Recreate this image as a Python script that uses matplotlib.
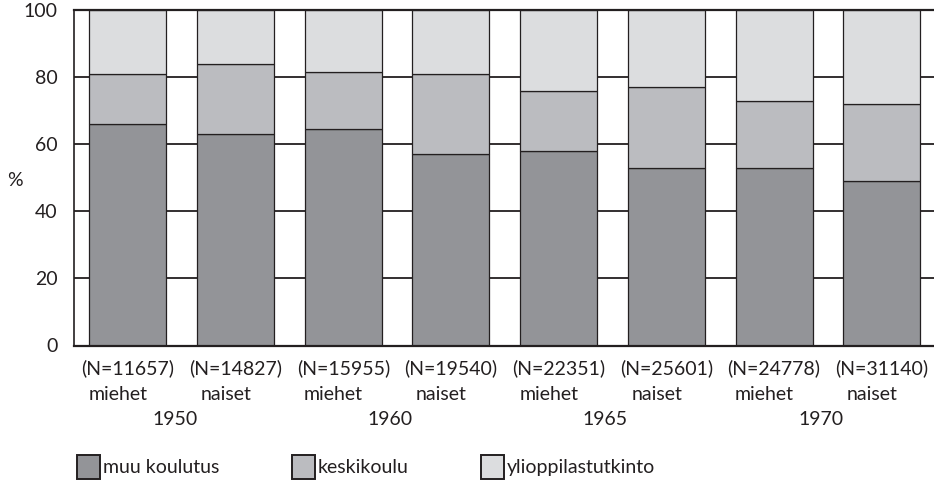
import numpy as np
import matplotlib
matplotlib.use('Agg')
from matplotlib import pyplot as plt

plt.rcParams['font.family'] = ['Lato', 'DejaVu Sans']

# Koulutustausta vuosittain ja sukupuolittain (%)
n_labels = ['(N=11657)', '(N=14827)', '(N=15955)', '(N=19540)',
            '(N=22351)', '(N=25601)', '(N=24778)', '(N=31140)']
sex_labels = ['miehet', 'naiset'] * 4
years = ['1950', '1960', '1965', '1970']

muu = [66, 63, 64.5, 57, 58, 53, 53, 49]
keski = [15, 21, 17, 24, 18, 24, 20, 23]
yo = [19, 16, 18.5, 19, 24, 23, 27, 28]

names = ['muu koulutus', 'keskikoulu', 'ylioppilastutkinto']
colors = ['#939498', '#bbbcc0', '#dcdddf']
line_c = '#231f20'
fs = 14

fig = plt.figure(figsize=(9.34, 4.82), dpi=100)
ax = fig.add_axes([74/934, 1 - 345.5/482, 861.6/934, 335.5/482])

x = np.arange(len(muu))
w = 0.715
b1 = ax.bar(x, muu, w, color=colors[0], edgecolor=line_c, lw=0.9, zorder=2)
b2 = ax.bar(x, keski, w, bottom=muu, color=colors[1], edgecolor=line_c,
            lw=0.9, zorder=2)
b3 = ax.bar(x, yo, w, bottom=np.add(muu, keski), color=colors[2],
            edgecolor=line_c, lw=0.9, zorder=2)

ax.set_xlim(-0.5, len(muu) - 0.5)
ax.set_ylim(0, 100)
ax.set_yticks(np.arange(0, 101, 20))
ax.yaxis.grid(True, color=line_c, lw=1.3)
ax.set_axisbelow(True)
ax.tick_params(axis='y', length=0, pad=12, labelsize=fs, colors=line_c)
ax.tick_params(axis='x', length=0)
ax.set_xticks([])

for s in ['left', 'top', 'bottom']:
    ax.spines[s].set_color(line_c)
ax.spines['left'].set_linewidth(1.2)
ax.spines['top'].set_linewidth(1.6)
ax.spines['bottom'].set_linewidth(1.6)
ax.spines['right'].set_visible(False)

fig.text(15/934, 1 - 181/482, '%', ha='center', va='center',
         fontsize=fs, color=line_c)

tr = ax.get_xaxis_transform()
for i in range(len(muu)):
    ax.text(x[i], -0.067, n_labels[i], transform=tr, ha='center',
            va='center', fontsize=fs, color=line_c)
    ax.text(x[i] - 0.09, -0.145, sex_labels[i], transform=tr, ha='center',
            va='center', fontsize=fs, color=line_c)
for j, yr in enumerate(years):
    ax.text(2*j + 0.5 - 0.065, -0.222, yr, transform=tr, ha='center',
            va='center', fontsize=fs, color=line_c)

leg = fig.legend([b1, b2, b3], names, loc='center left',
                 bbox_to_anchor=(77/934, 1 - 467/482), ncol=3, frameon=False,
                 fontsize=fs, handlelength=1.2, handleheight=1.5,
                 handletextpad=0.15, columnspacing=3.7, borderpad=0,
                 borderaxespad=0, labelcolor=line_c)
for p in leg.get_patches():
    p.set_linewidth(1.4)

plt.savefig('out.png', dpi=100)
plt.close()
